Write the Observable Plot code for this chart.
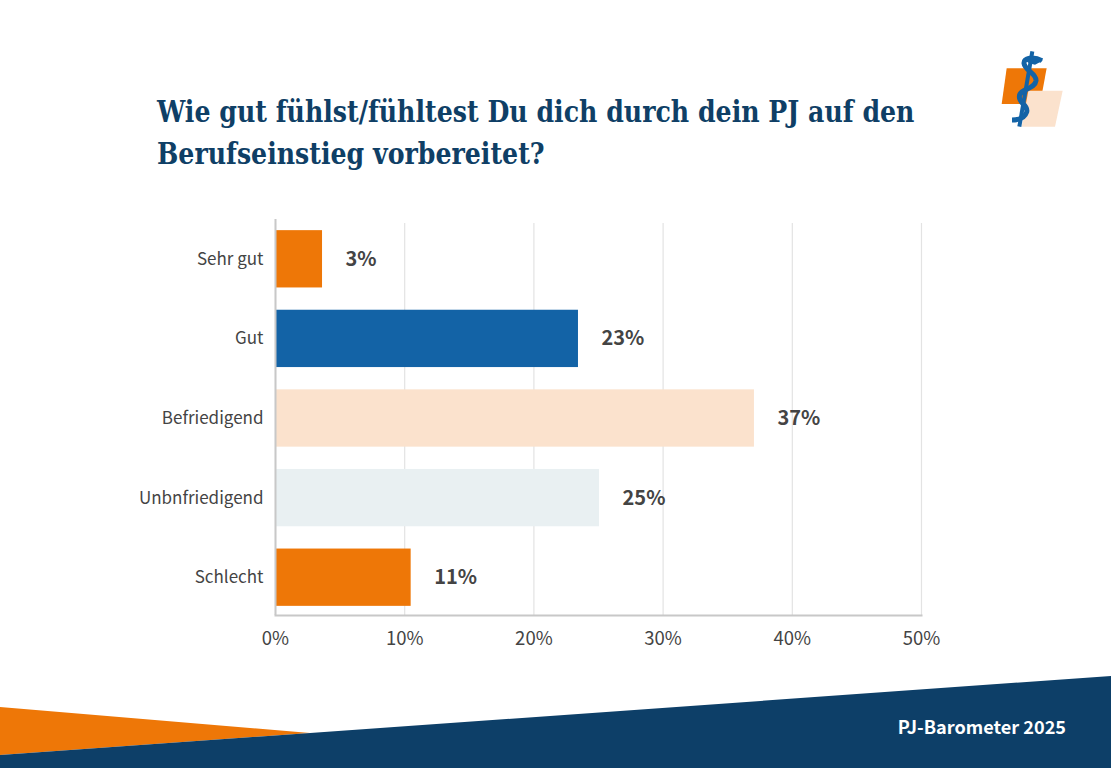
<!DOCTYPE html>
<html lang="de">
<head>
<meta charset="utf-8">
<script src="https://cdn.jsdelivr.net/npm/d3@7"></script>
<script src="https://cdn.jsdelivr.net/npm/@observablehq/plot@0.6"></script>
<style>
html,body{margin:0;padding:0;background:#fff;width:1111px;height:768px;overflow:hidden;position:relative}
#title{position:absolute;left:157px;top:91px;margin:0;width:900px;font:700 30px/42px "DejaVu Serif Condensed","DejaVu Serif",serif;color:#0f3f66;white-space:nowrap;transform:scaleX(.935);transform-origin:left top}
#chart{position:absolute;left:0;top:200px}
#deco,#logo{position:absolute}
#deco{left:0;top:660px}
#logo{left:980px;top:30px}
#foot{position:absolute;right:45px;top:714px;font:700 18.1px/24px "Noto Sans CJK SC",sans-serif;color:#fff}
</style>
</head>
<body>
<svg id="deco" width="1111" height="108" viewBox="0 660 1111 108">
  <polygon points="0,707 310,733 0,755" fill="#ee7707"/>
  <polygon points="0,755 1111,676 1111,768 0,768" fill="#0d3f68"/>
</svg>
<svg id="logo" width="110" height="110" viewBox="0 0 330 330">
  <polygon points="80,115 200,115 180,222 65,222" fill="#ee7707"/>
  <polygon points="145,182 248,182 225,290 125,290" fill="#fbe2cd"/>
  <path d="M157,64 L118,290" stroke="#1363a6" stroke-width="12" fill="none"/>
  <path d="M96,270 C118,270 135,262 140,246 C146,225 118,222 118,200 C118,176 165,178 168,152 C170,130 135,122 132,100 C131,84 160,78 186,92" stroke="#1363a6" stroke-width="15" fill="none"/>
  <path d="M135,85 C150,72 175,78 188,92 L165,104 C150,100 138,100 135,85 Z" fill="#1363a6"/>
</svg>
<h1 id="title">Wie gut fühlst/fühltest Du dich durch dein PJ auf den<br>Berufseinstieg vorbereitet?</h1>
<div id="chart"></div>
<div id="foot">PJ-Barometer 2025</div>
<script>
const categories = ["Sehr gut", "Gut", "Befriedigend", "Unbnfriedigend", "Schlecht"];
const barValues = [3.64, 23.45, 37.07, 25.08, 10.5];
const valueLabels = ["3%", "23%", "37%", "25%", "11%"];
const xTicks = [0, 10, 20, 30, 40, 50];
const barColors = ["#ee7707", "#1363a6", "#fbe2cd", "#e9f0f2", "#ee7707"];

const rows = categories.map((category, i) => ({category, value: barValues[i], label: valueLabels[i]}));
const textColor = "#444444";

const plot = Plot.plot({
  width: 1111,
  height: 460,
  marginLeft: 275,
  marginRight: 190,
  marginTop: 23,
  marginBottom: 45,
  style: {fontFamily: "'Noto Sans CJK SC', sans-serif", fontSize: "17px", background: "transparent"},
  x: {domain: [0, 50], label: null},
  y: {domain: categories, range: [19, 417], paddingInner: 0.28, paddingOuter: 0.14, align: 0.5, round: false, label: null},
  color: {domain: categories, range: barColors},
  marks: [
    Plot.ruleX(xTicks, {stroke: "#e3e3e3", strokeWidth: 1.2}),
    Plot.barX(rows, {x: "value", y: "category", fill: "category"}),
    Plot.frame({anchor: "bottom", stroke: "#c8c8c8", strokeWidth: 2}),
    Plot.ruleX([0], {stroke: "#c8c8c8", strokeWidth: 2, insetTop: -4}),
    Plot.text(rows, {x: "value", y: "category", text: "label", textAnchor: "start", dx: 23,
      fill: textColor, fontWeight: 700, fontSize: 20}),
    Plot.axisY({tickSize: 0, tickPadding: 12, label: null, color: textColor}),
    Plot.axisX(xTicks, {tickSize: 0, tickPadding: 16, label: null, color: textColor, tickFormat: d => d + "%", fontSize: 18.5})
  ]
});
document.getElementById("chart").append(plot);
</script>
</body>
</html>
